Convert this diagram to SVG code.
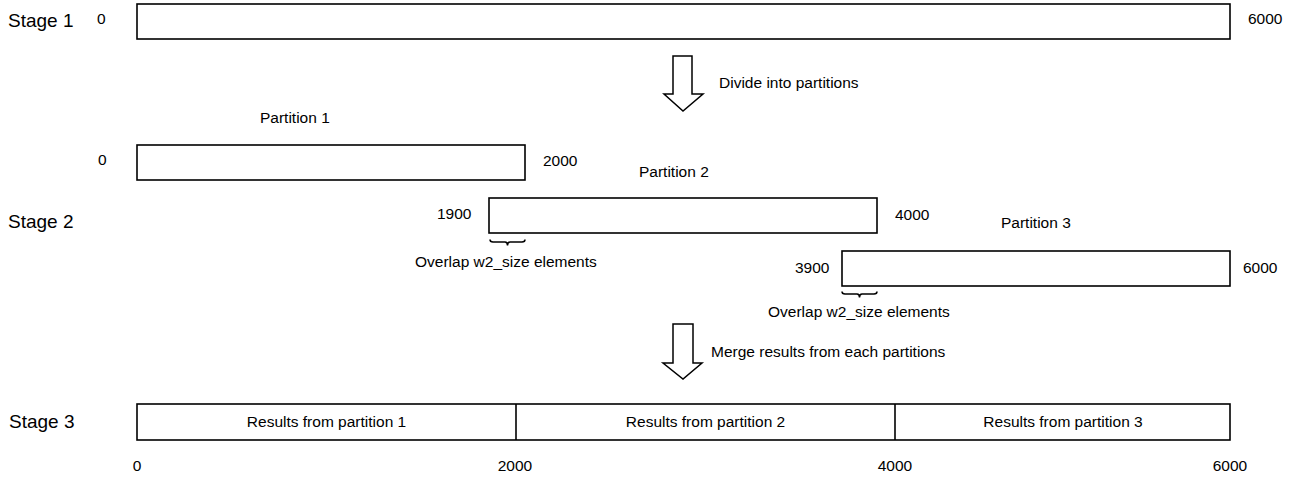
<svg xmlns="http://www.w3.org/2000/svg" width="1291" height="477" viewBox="0 0 1291 477">
  <style>
    .box { fill: #ffffff; stroke: #000000; stroke-width: 1.6; }
    .arrow { fill: #ffffff; stroke: #000000; stroke-width: 1.5; stroke-linejoin: miter; }
    .brace { fill: none; stroke: #000000; stroke-width: 1.5; }
    text { font-family: "Liberation Sans", Arial, sans-serif; fill: #000000; }
    .stage { font-size: 19px; }
    .lbl { font-size: 15.5px; }
    .mid { text-anchor: middle; }
  </style>
  <rect width="1291" height="477" fill="#ffffff"/>

  <g id="stage1">
    <text class="stage" x="8" y="27">Stage 1</text>
    <rect class="box" x="137" y="4" width="1093" height="35"/>
    <text class="lbl" x="97" y="24">0</text>
    <text class="lbl" x="1248" y="24">6000</text>
  </g>

  <g id="stage2">
    <text class="stage" x="8" y="228">Stage 2</text>
  </g>

  <g id="partition1">
    <text class="lbl" x="260" y="123">Partition 1</text>
    <rect class="box" x="137" y="145" width="388" height="35"/>
    <text class="lbl" x="98" y="165">0</text>
    <text class="lbl" x="543" y="166">2000</text>
  </g>

  <g id="partition2">
    <text class="lbl" x="639" y="177">Partition 2</text>
    <rect class="box" x="489" y="198" width="388" height="35"/>
    <text class="lbl" x="437" y="219">1900</text>
    <text class="lbl" x="895" y="220">4000</text>
    <path class="brace" d="M490,239.5 Q490,242 493,242 L505,242 Q507.5,242 507.5,245.5 Q507.5,242 510,242 L522,242 Q525,242 525,239.5"/>
    <text class="lbl" x="415" y="267">Overlap w2_size elements</text>
  </g>

  <g id="partition3">
    <text class="lbl" x="1001" y="228">Partition 3</text>
    <rect class="box" x="842" y="251" width="388" height="35"/>
    <text class="lbl" x="795" y="273">3900</text>
    <text class="lbl" x="1243" y="273">6000</text>
    <path class="brace" d="M842,291.5 Q842,294 845,294 L857,294 Q859.5,294 859.5,297.5 Q859.5,294 862,294 L874,294 Q877,294 877,291.5"/>
    <text class="lbl" x="768" y="317">Overlap w2_size elements</text>
  </g>

  <g id="stage3">
    <text class="stage" x="9" y="428">Stage 3</text>
    <rect class="box" x="137" y="404" width="1093" height="36"/>
    <line x1="516" y1="404" x2="516" y2="440" stroke="#000" stroke-width="1.6"/>
    <line x1="895" y1="404" x2="895" y2="440" stroke="#000" stroke-width="1.6"/>
    <text class="lbl mid" x="326.5" y="427">Results from partition 1</text>
    <text class="lbl mid" x="705.5" y="427">Results from partition 2</text>
    <text class="lbl mid" x="1063" y="427">Results from partition 3</text>
    <text class="lbl mid" x="137" y="471">0</text>
    <text class="lbl mid" x="515" y="471">2000</text>
    <text class="lbl mid" x="895" y="471">4000</text>
    <text class="lbl mid" x="1230" y="471">6000</text>
  </g>

  <g id="connectors">
    <g id="divide-arrow">
      <polygon class="arrow" points="673,56 692,56 692,94 703,94 683,111 664,94 673,94"/>
      <text class="lbl" x="719" y="88">Divide into partitions</text>
    </g>
    <g id="merge-arrow">
      <polygon class="arrow" points="673,324 693,324 693,363 702,363 683,379 663,363 673,363"/>
      <text class="lbl" x="711" y="357">Merge results from each partitions</text>
    </g>
  </g>
</svg>
